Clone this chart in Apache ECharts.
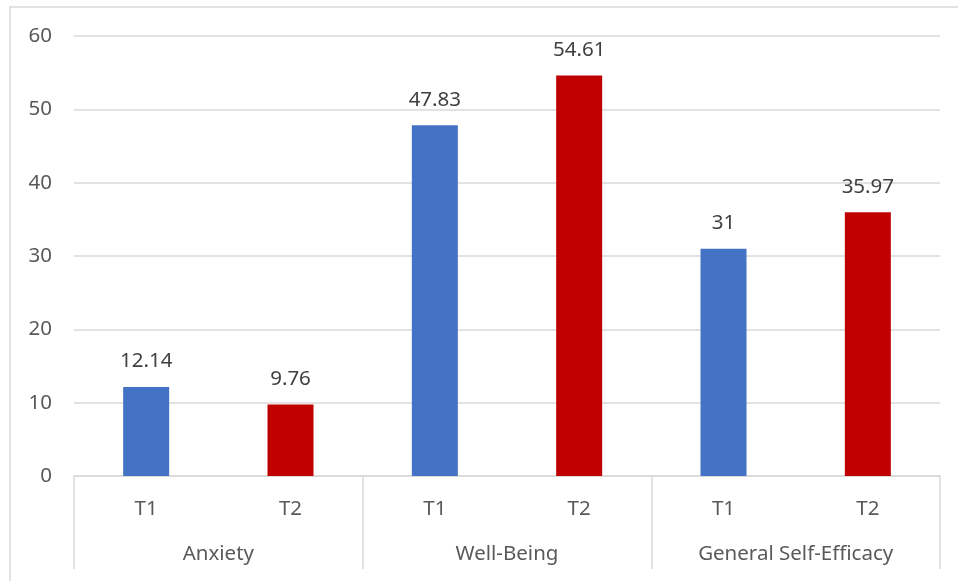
<!DOCTYPE html>
<html lang="en">
<head>
    <meta charset="UTF-8">
    <title>T1 / T2 bars</title>
    <style>
        html, body { margin: 0; padding: 0; background: #fff; }
    </style>
</head>
<body>
    <div id="card" style="width: 958px;height:581px;"></div>
    <script src="https://cdn.jsdelivr.net/npm/echarts@6/dist/echarts.min.js"></script>
    <script>
        // data
        var groups = ['Anxiety', 'Well-Being', 'General Self-Efficacy'];
        var times = ['T1', 'T2'];
        var anxiety = [12.14, 9.76];
        var wellBeing = [47.83, 54.61];
        var selfEfficacy = [31, 35.97];
        var yTicks = [0, 10, 20, 30, 40, 50, 60];

        var barColors = ['#4472C4', '#C00000']; // T1 blue, T2 red
        var textColor = '#595959';
        var lineColor = '#d9d9d9';
        var font = 'Noto Sans';
        var fs = 20.5;

        var categories = [];
        groups.forEach(function () {
            categories = categories.concat(times);
        });
        var values = [].concat(anxiety, wellBeing, selfEfficacy);

        var option = {
            backgroundColor: '#fff',
            textStyle: { fontFamily: font },
            graphic: [{
                type: 'polyline',
                shape: { points: [[10, 600], [10, 7], [980, 7]] },
                style: { stroke: lineColor, lineWidth: 1.5, fill: null }
            }],
            grid: { left: 74, right: 18, top: 36, bottom: 105 },
            xAxis: [{
                type: 'category',
                data: categories,
                axisLine: { lineStyle: { color: lineColor, width: 1.5 } },
                axisTick: { show: false },
                axisLabel: { color: textColor, fontSize: fs, margin: 23, fontFamily: font }
            }, {
                type: 'category',
                data: groups,
                position: 'bottom',
                offset: 0,
                axisLine: { show: false },
                axisTick: { show: true, length: 93, interval: 0, lineStyle: { color: lineColor, width: 1.5 } },
                axisLabel: { color: textColor, fontSize: fs, margin: 68, interval: 0, fontFamily: font }
            }],
            yAxis: {
                type: 'value',
                min: yTicks[0],
                max: yTicks[yTicks.length - 1],
                interval: 10,
                axisLine: { show: false },
                axisTick: { show: false },
                splitLine: { lineStyle: { color: lineColor, width: 1.5 } },
                axisLabel: { color: textColor, fontSize: fs, margin: 22, fontFamily: font }
            },
            series: [{
                type: 'bar',
                xAxisIndex: 0,
                barWidth: 46,
                data: values,
                itemStyle: {
                    color: function (p) { return barColors[p.dataIndex % 2]; }
                },
                label: {
                    show: true,
                    position: 'top',
                    distance: 15,
                    color: '#404040',
                    fontSize: fs,
                    fontFamily: font
                }
            }]
        };

        var myChart = echarts.init(document.querySelector('#card'));
        myChart.setOption(option);
    </script>
</body>
</html>
